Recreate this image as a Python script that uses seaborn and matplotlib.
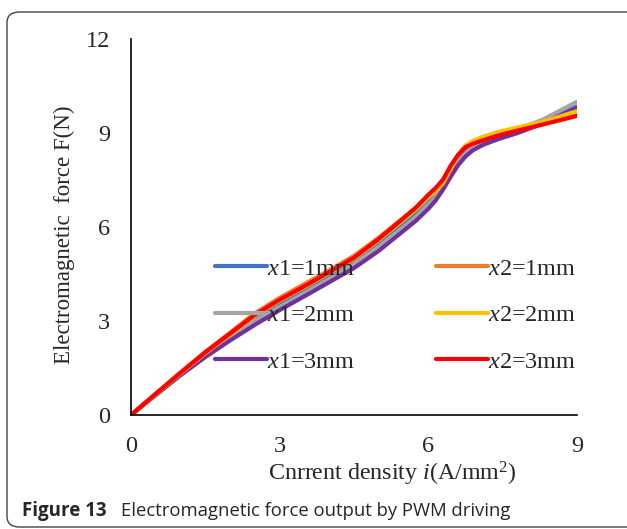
import pandas as pd
import seaborn as sns
import matplotlib.pyplot as plt
from matplotlib.patches import FancyBboxPatch

i_vals = [0, 0.5, 1, 1.5, 2, 2.5, 3, 3.5, 4, 4.5, 5, 5.5, 5.75, 6, 6.15, 6.3, 6.45,
          6.6, 6.75, 6.9, 7.1, 7.4, 7.8, 8.3, 9]

x1_1mm = [0, 0.66, 1.31, 1.93, 2.5, 3.07, 3.52, 3.96, 4.41, 4.88, 5.44, 6.07, 6.4, 6.8,
          7.02, 7.32, 7.75, 8.12, 8.4, 8.58, 8.73, 8.92, 9.1, 9.38, 9.85]
x1_2mm = [0, 0.65, 1.3, 1.9, 2.45, 3.0, 3.45, 3.89, 4.34, 4.81, 5.37, 6.0, 6.32, 6.72,
          6.95, 7.25, 7.68, 8.05, 8.35, 8.55, 8.72, 8.92, 9.12, 9.42, 10.0]
x1_3mm = [0, 0.64, 1.27, 1.85, 2.38, 2.88, 3.35, 3.79, 4.24, 4.69, 5.24, 5.88, 6.2, 6.58,
          6.85, 7.2, 7.6, 7.97, 8.25, 8.45, 8.62, 8.8, 9.0, 9.3, 9.8]
x2_1mm = [0, 0.68, 1.36, 2.02, 2.63, 3.25, 3.74, 4.18, 4.62, 5.08, 5.66, 6.3, 6.62, 7.0,
          7.2, 7.48, 7.92, 8.3, 8.57, 8.7, 8.82, 8.97, 9.12, 9.3, 9.62]
x2_2mm = [0, 0.67, 1.33, 1.97, 2.57, 3.17, 3.65, 4.08, 4.53, 4.99, 5.58, 6.23, 6.56, 6.95,
          7.15, 7.4, 7.85, 8.3, 8.6, 8.75, 8.88, 9.03, 9.18, 9.35, 9.7]
x2_3mm = [0, 0.68, 1.35, 2.0, 2.6, 3.2, 3.68, 4.11, 4.56, 5.02, 5.62, 6.28, 6.62, 7.03,
          7.25, 7.52, 7.95, 8.3, 8.55, 8.66, 8.77, 8.92, 9.08, 9.27, 9.55]

labels = ['$\\mathit{x}$1=1mm', '$\\mathit{x}$1=2mm', '$\\mathit{x}$1=3mm',
          '$\\mathit{x}$2=1mm', '$\\mathit{x}$2=2mm', '$\\mathit{x}$2=3mm']
colors = ['#4472C4', '#A5A5A5', '#7030A0', '#ED7D31', '#FFC000', '#FF0000']
series = [x1_1mm, x1_2mm, x1_3mm, x2_1mm, x2_2mm, x2_3mm]

rows = []
for lab, ys in zip(labels, series):
    for xv, yv in zip(i_vals, ys):
        rows.append({'i': xv, 'F': yv, 'case': lab})
df = pd.DataFrame(rows)

sns.set_style('white')
plt.rcParams['font.family'] = ['Liberation Serif', 'DejaVu Serif']
plt.rcParams['mathtext.fontset'] = 'custom'
plt.rcParams['mathtext.it'] = 'Liberation Serif:italic'
plt.rcParams['mathtext.rm'] = 'Liberation Serif'

fig = plt.figure(figsize=(6.27, 5.29), dpi=100)
ax = fig.add_axes([0.209, 0.2155, 0.711, 0.7105])

sns.lineplot(data=df, x='i', y='F', hue='case', hue_order=labels,
             palette=colors, linewidth=3, sort=False, ax=ax)

ax.set_xlim(0, 9)
ax.set_ylim(0, 12)
ax.set_xticks([0, 3, 6, 9])
ax.set_yticks([0, 3, 6, 9, 12])
ax.tick_params(axis='both', labelsize=17.5, length=0)
ax.tick_params(axis='x', pad=15)
ax.tick_params(axis='y', pad=15)
sns.despine(ax=ax)
for s in ['left', 'bottom']:
    ax.spines[s].set_color('black')
    ax.spines[s].set_linewidth(1.2)

ax.set_xlabel('Cnrrent density $\\mathit{i}$(A/mm$^2$)', fontsize=17.3)
ax.set_ylabel('Electromagnetic  force F(N)', fontsize=16.5)
ax.xaxis.set_label_coords(0.585, -0.12)
ax.yaxis.set_label_coords(-0.125, 0.48)

leg = ax.legend(ncol=2, frameon=False, fontsize=17.5, loc='upper left',
                bbox_to_anchor=(0.188, 0.418), borderaxespad=0, borderpad=0,
                handlelength=2.15, handletextpad=0.0,
                columnspacing=3.3, labelspacing=1.0)
for h in leg.get_lines():
    h.set_linewidth(3)

frame = FancyBboxPatch((7 / 627, 2 / 529), 1.2, 515 / 529,
                       boxstyle='round,pad=0,rounding_size=0.02',
                       transform=fig.transFigure, fill=False,
                       edgecolor='#444444', linewidth=1.0, clip_on=False)
fig.patches.append(frame)

fig.text(22 / 627, 1 - 511 / 529, 'Figure 13', fontsize=13.5, fontweight='bold',
         family=['Open Sans', 'DejaVu Sans'], va='center')
fig.text(121 / 627, 1 - 511 / 529, 'Electromagnetic force output by PWM driving',
         fontsize=13.3, family=['Open Sans', 'DejaVu Sans'], va='center')

fig.savefig('out.png', dpi=100)
